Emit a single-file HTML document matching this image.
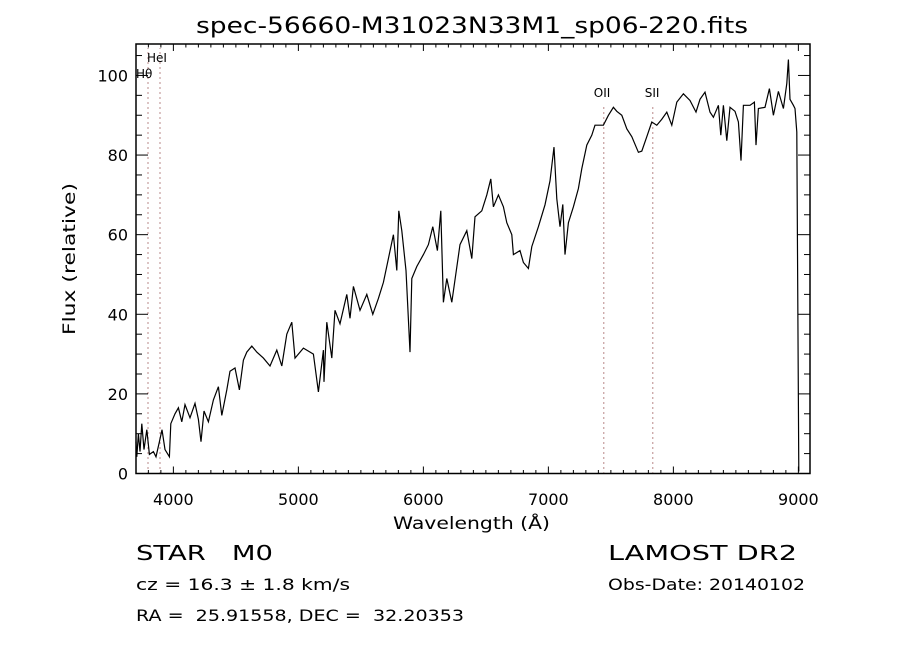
<!DOCTYPE html>
<html><head><meta charset="utf-8"><style>
html,body{margin:0;padding:0;background:#fff;}
svg{display:block;}
text{font-family:"DejaVu Sans","Liberation Sans",sans-serif;fill:#000;white-space:pre;}
</style></head><body>
<svg id="chart" width="900" height="650" viewBox="0 0 900 650" xmlns="http://www.w3.org/2000/svg" xml:space="preserve">
<rect width="900" height="650" fill="#fff"/>
<text x="196" y="33" font-size="22" textLength="552" lengthAdjust="spacingAndGlyphs">spec-56660-M31023N33M1_sp06-220.fits</text>
<g id="marks"></g>
<text x="393" y="529" font-size="17" textLength="157" lengthAdjust="spacingAndGlyphs">Wavelength (Å)</text>
<text transform="translate(75,335) rotate(-90)" font-size="17" textLength="152" lengthAdjust="spacingAndGlyphs">Flux (relative)</text>
<text x="136" y="560" font-size="20" textLength="137" lengthAdjust="spacingAndGlyphs">STAR   M0</text>
<text x="136" y="590" font-size="16" textLength="214" lengthAdjust="spacingAndGlyphs">cz = 16.3 ± 1.8 km/s</text>
<text x="136" y="621" font-size="16" textLength="328" lengthAdjust="spacingAndGlyphs">RA =  25.91558, DEC =  32.20353</text>
<text x="608" y="560" font-size="20" textLength="189" lengthAdjust="spacingAndGlyphs">LAMOST DR2</text>
<text x="608" y="590" font-size="16" textLength="197" lengthAdjust="spacingAndGlyphs">Obs-Date: 20140102</text>
</svg>
<script>
const wavelengths=[3701,3707,3720,3733,3747,3765,3787,3808,3840,3861,3888,3909,3933,3968,3979,4013,4040,4067,4093,4133,4173,4200,4221,4245,4280,4320,4360,4387,4427,4453,4493,4528,4560,4587,4627,4667,4720,4773,4827,4867,4907,4947,4973,5040,5120,5160,5200,5205,5227,5267,5293,5333,5387,5413,5440,5493,5547,5595,5640,5680,5720,5760,5787,5803,5827,5861,5893,5907,5947,6000,6040,6075,6112,6139,6160,6187,6227,6293,6347,6387,6413,6467,6507,6539,6560,6600,6640,6667,6707,6720,6773,6800,6840,6867,6920,6973,7013,7045,7067,7093,7115,7133,7160,7200,7240,7267,7307,7347,7373,7440,7480,7520,7547,7587,7627,7667,7720,7747,7787,7827,7867,7907,7947,7987,8027,8080,8133,8181,8213,8253,8293,8320,8360,8379,8400,8427,8453,8493,8520,8541,8560,8613,8648,8661,8680,8733,8768,8800,8840,8880,8907,8920,8933,8960,8973,8987,8995,9003];
const fluxes=[8,4.2,10,5.5,12.5,6,11,4.8,5.5,4.2,8,11,6,4.2,12.5,15,16.5,13,17.3,14,17.6,13.6,8,15.7,13,18.5,21.8,14.6,21,25.7,26.5,21,28.5,30.5,32,30.5,29,27,31,27,35,38,29,31.5,30,20.5,31,23,38,29,41,37.6,45,39,47,41,45,40,44,48,54,60,51,66,61,51,30.5,49,52,55,57.5,62,56,66,43,49,43,57.5,61,54,64.5,66,70,74,67,70,67,63,60,55,56,53,51.5,57,62,67.5,73.5,82,69,62,67.6,55,63,67,71.6,76.6,82.5,85,87.5,87.5,90,92,91,90,86.6,84.6,80.7,81,84.6,88.3,87.5,89,90.8,87.5,93.3,95.4,93.7,90.8,94,95.8,90.8,89.5,92.5,85,92.5,83.6,92,91,88.3,78.6,92.5,92.5,93.3,82.5,91.7,92,96.7,90,96,91.7,98,104,94,92.5,91.7,85.8,43,0.5];
const xTickValues=[4000,5000,6000,7000,8000,9000];
const xTickLabels=["4000","5000","6000","7000","8000","9000"];
const yTickValues=[0,20,40,60,80,100];
const yTickLabels=["0","20","40","60","80","100"];
const lineNames=["Hθ","HeI","OII","SII"];
const lineWaves=[3797,3893,7443,7835];

const L=136,R=810,T=44,B=473.5;
const xMin=3701,xMax=9093,yMin=0,yMax=107.9;
const sx=v=>L+(v-xMin)/(xMax-xMin)*(R-L);
const sy=v=>B-(v-yMin)/(yMax-yMin)*(B-T);
const NS="http://www.w3.org/2000/svg";
const g=document.getElementById('marks');
function mk(tag,attrs){const e=document.createElementNS(NS,tag);for(const k in attrs)e.setAttribute(k,attrs[k]);g.appendChild(e);return e;}

const lineLabelY=[78,62,97,97];
const lineLabelX=[-12,-13,-10,-8];
lineWaves.forEach((w,i)=>{
  const x=sx(w);
  const ln=mk('line',{x1:x,x2:x,y1:B,y2:(i<2?T+4:105),stroke:'#8b3a3a','stroke-width':1.2,'stroke-dasharray':'1 4'});
  
  
  const t=mk('text',{x:x+lineLabelX[i],y:lineLabelY[i],'font-size':12,'font-family':'Liberation Serif,serif'});
  t.textContent=lineNames[i];
  
  
});

let d='';
wavelengths.forEach((w,i)=>{d+=(i?'L':'M')+sx(w).toFixed(1)+','+sy(fluxes[i]).toFixed(1);});
const p=mk('path',{d:d,fill:'none',stroke:'#000','stroke-width':1.2,'stroke-linejoin':'miter'});



const fr=mk('rect',{x:L,y:T,width:R-L,height:B-T,fill:'none',stroke:'#000','stroke-width':1.5});



for(let w=3800;w<=9000;w+=100){
  const x=sx(w);const major=w%1000===0;const len=major?7:3.5;
  const a=mk('line',{x1:x,x2:x,y1:B,y2:B-len,stroke:'#000','stroke-width':1});
  
  
  const b=mk('line',{x1:x,x2:x,y1:T,y2:T+len,stroke:'#000','stroke-width':1});
  
  
}
xTickValues.forEach((v,i)=>{
  const t=mk('text',{x:sx(v),y:505,'font-size':16,'text-anchor':'middle'});
  t.textContent=xTickLabels[i];
  
  
});
for(let v=0;v<=105;v+=5){
  const y=sy(v);const major=v%20===0;const len=major?12:6;
  const a=mk('line',{x1:L,x2:L+len,y1:y,y2:y,stroke:'#000','stroke-width':1});
  
  
  const b=mk('line',{x1:R,x2:R-len,y1:y,y2:y,stroke:'#000','stroke-width':1});
  
  
}
yTickValues.forEach((v,i)=>{
  const t=mk('text',{x:128,y:sy(v)+6,'font-size':16,'text-anchor':'end'});
  t.textContent=yTickLabels[i];
  
  
});
</script>
</body></html>
